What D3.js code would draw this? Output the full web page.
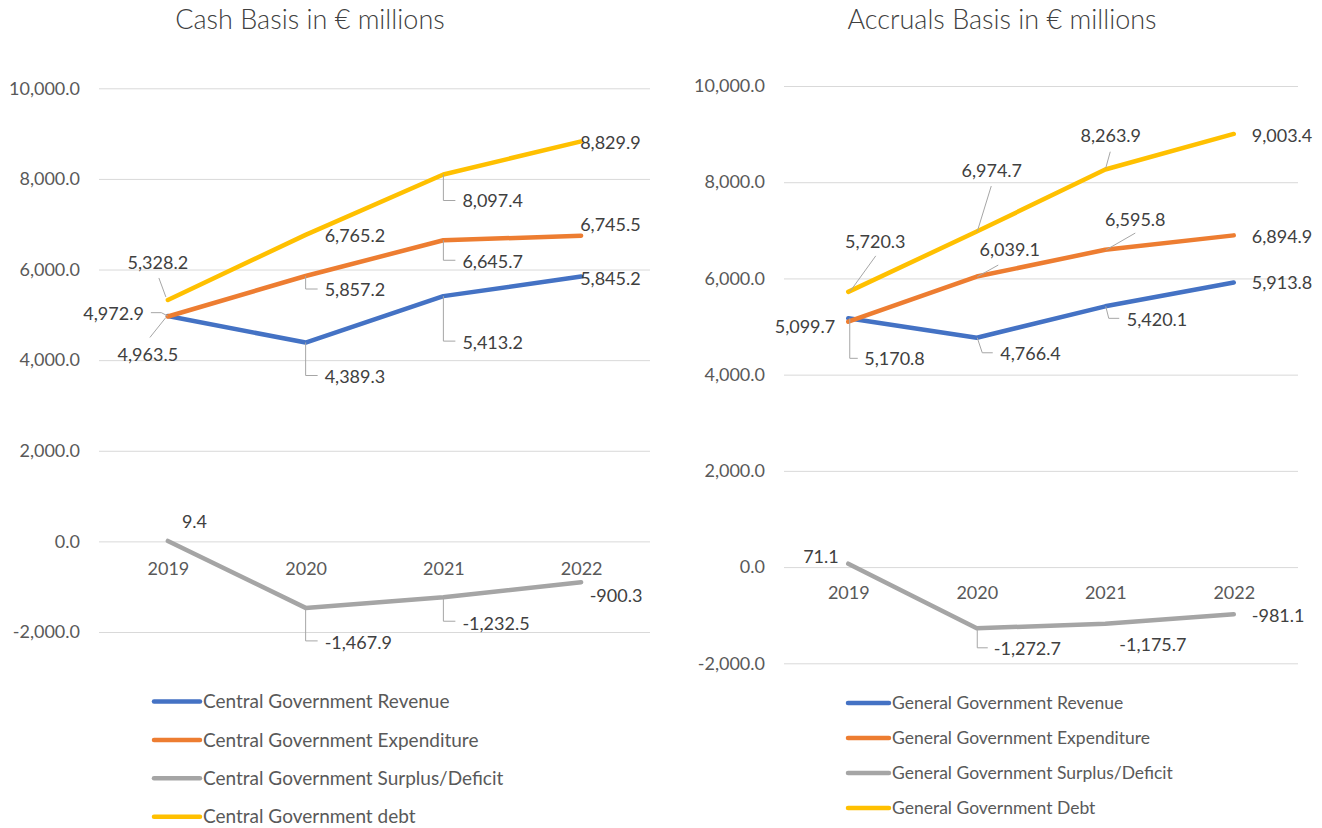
<!DOCTYPE html>
<html>
<head>
<meta charset="utf-8">
<script src="https://cdn.jsdelivr.net/npm/d3@7"></script>
<style>
  body { margin: 0; background: #fff; }
  svg text { font-family: Lato, "Noto Sans", sans-serif; }
</style>
</head>
<body>
<div id="chart-area"></div>
<script>
// data

var years = ["2019", "2020", "2021", "2022"];
var yTicks = [-2000, 0, 2000, 4000, 6000, 8000, 10000];

// cash basis (central government)
var cashRevenue = [4972.9, 4389.3, 5413.2, 5845.2];
var cashExpenditure = [4963.5, 5857.2, 6645.7, 6745.5];
var cashBalance = [9.4, -1467.9, -1232.5, -900.3];
var cashDebt = [5328.2, 6765.2, 8097.4, 8829.9];
var cashNames = [
  "Central Government Revenue",
  "Central Government Expenditure",
  "Central Government Surplus/Deficit",
  "Central Government debt"
];

// accruals basis (general government)
var accRevenue = [5170.8, 4766.4, 5420.1, 5913.8];
var accExpenditure = [5099.7, 6039.1, 6595.8, 6894.9];
var accBalance = [71.1, -1272.7, -1175.7, -981.1];
var accDebt = [5720.3, 6974.7, 8263.9, 9003.4];
var accNames = [
  "General Government Revenue",
  "General Government Expenditure",
  "General Government Surplus/Deficit",
  "General Government Debt"
];

var colors = ["#4472C4", "#ED7D31", "#A5A5A5", "#FFC000"];

// label placement: [dx, dy, anchor, leader points] relative to the data point
var cashLabels = [
  [ // revenue
    [-24, -2, "end", [[0, 0], [-6.5, -3.4], [-17, -3.4]]],
    [19, 34, "start", [[0, 0], [0, 33], [12, 33]]],
    [19, 46.5, "start", [[0, 0], [0, 45], [12, 45]]],
    [-1, 1.7, "start", null]
  ],
  [ // expenditure
    [-20, 38, "middle", [[-2, 1], [-18, 21]]],
    [19, 14, "start", [[0, 0], [0, 13], [12, 13]]],
    [19, 21.4, "start", [[0, 0], [0, 20], [12, 20]]],
    [-1, -11.5, "start", null]
  ],
  [ // surplus/deficit
    [14, -19.3, "start", null],
    [19, 34.8, "start", [[0, 0], [0, 33], [12, 33]]],
    [19, 26.1, "start", [[0, 0], [0, 24], [12, 24]]],
    [8.5, 13.5, "start", null]
  ],
  [ // debt
    [-10, -37.3, "middle", [[-2, -3], [-9, -22]]],
    [19, 1, "start", null],
    [19, 26.2, "start", [[0, 0], [0, 26], [12, 26]]],
    [-1, 1.4, "start", null]
  ]
];

var accLabels = [
  [ // revenue
    [16, 40.7, "start", [[1.5, 0], [1.5, 40], [9.5, 40]]],
    [23.5, 15.5, "start", [[0.5, 0], [5.5, 15], [16, 15]]],
    [21.5, 13, "start", [[0.5, 0], [3.5, 12], [14, 12]]],
    [18, 0, "start", null]
  ],
  [ // expenditure
    [-13, 5, "end", null],
    [33, -27.2, "middle", [[0.5, 0.2], [21.5, -11.5]]],
    [30, -30.4, "middle", [[0.5, 0.3], [30, -16.7]]],
    [18, 1.3, "start", null]
  ],
  [ // surplus/deficit
    [-9.5, -7, "end", null],
    [17, 20.7, "start", [[0.5, 0], [0.5, 19.5], [11, 19.5]]],
    [14, 20.7, "start", null],
    [18, 1.4, "start", null]
  ],
  [ // debt
    [27, -50.2, "middle", [[1.5, 0], [27.5, -36]]],
    [15, -60.5, "middle", [[0.5, 0], [14.5, -45.5]]],
    [5.5, -33.5, "middle", [[0.5, -1.5], [5, -17.8]]],
    [18, 2, "start", null]
  ]
];

// SVG drawing area
var width = 1322;
var height = 828;

var svg = d3
  .select("#chart-area")
  .append("svg")
  .attr("width", width)
  .attr("height", height);

// plain hyphen for negatives, like the original
var fmt = (v) => d3.format(",.1f")(v).replace("\u2212", "-");

function drawPanel(opts) {
  var g = svg.append("g");

  var x = d3.scalePoint().domain(years).range(opts.xRange).padding(0.5);
  var y = d3.scaleLinear().domain([-2000, 10000]).range(opts.yRange);

  // title
  g.append("text")
    .attr("x", opts.titleX)
    .attr("y", 29)
    .attr("text-anchor", "middle")
    .attr("font-size", 27)
    .attr("font-weight", 300)
    .attr("fill", "#404040")
    .text(opts.title);

  // y axis with gridlines
  var yAxis = d3
    .axisLeft(y)
    .tickValues(yTicks)
    .tickSize(-(opts.xRange[1] - opts.xRange[0]))
    .tickFormat(fmt)
    .tickPadding(19);

  var ya = g
    .append("g")
    .attr("transform", `translate(${opts.xRange[0]}, 0)`)
    .call(yAxis);
  ya.select(".domain").remove();
  ya.selectAll("line").attr("stroke", "#D9D9D9").attr("stroke-width", 1);
  ya.selectAll("text")
    .attr("font-size", 18)
    .attr("fill", "#595959")
    .attr("font-family", "Lato, sans-serif");

  // x axis labels sit just below the zero line
  var xAxis = d3.axisBottom(x).tickSize(0).tickPadding(opts.xPad);
  var xa = g
    .append("g")
    .attr("transform", `translate(0, ${y(0)})`)
    .call(xAxis);
  xa.select(".domain").remove();
  xa.selectAll("text")
    .attr("font-size", 18)
    .attr("fill", "#595959")
    .attr("font-family", "Lato, sans-serif");

  var line = d3
    .line()
    .x((d, i) => x(years[i]))
    .y((d) => y(d));

  // series lines
  opts.series.forEach(function (s, k) {
    g.append("path")
      .datum(s)
      .attr("fill", "none")
      .attr("stroke", colors[k])
      .attr("stroke-width", 4.5)
      .attr("stroke-linecap", "round")
      .attr("stroke-linejoin", "round")
      .attr("d", line);
  });

  // data labels with leader lines
  opts.series.forEach(function (s, k) {
    s.forEach(function (v, i) {
      var px = x(years[i]);
      var py = y(v);
      var lab = opts.labels[k][i];
      if (lab[3]) {
        g.append("polyline")
          .attr("fill", "none")
          .attr("stroke", "#A6A6A6")
          .attr("stroke-width", 1)
          .attr("points", lab[3].map((p) => [px + p[0], py + p[1]].join(",")).join(" "));
      }
      g.append("text")
        .attr("x", px + lab[0])
        .attr("y", py + lab[1])
        .attr("dy", "0.35em")
        .attr("text-anchor", lab[2])
        .attr("font-size", 18)
        .attr("fill", "#404040")
        .text(fmt(v));
    });
  });

  // legend
  var leg = g
    .selectAll(".legend")
    .data(opts.names)
    .join("g")
    .attr("class", "legend")
    .attr("transform", (d, i) => `translate(${opts.legendX}, ${opts.legendY + i * opts.legendStep})`);

  leg.append("line")
    .attr("x1", 0)
    .attr("x2", opts.legendLine)
    .attr("stroke", (d, i) => colors[i])
    .attr("stroke-width", 4.5)
    .attr("stroke-linecap", "round");

  leg.append("text")
    .attr("x", opts.legendLine + 3)
    .attr("dy", "0.35em")
    .attr("font-size", opts.legendFont)
    .attr("fill", "#595959")
    .text((d) => d);
}

drawPanel({
  title: "Cash Basis in € millions",
  titleX: 310,
  xRange: [99, 650],
  yRange: [632, 88.3],
  xPad: 21,
  series: [cashRevenue, cashExpenditure, cashBalance, cashDebt],
  labels: cashLabels,
  names: cashNames,
  legendX: 154,
  legendY: 701.5,
  legendStep: 38.4,
  legendLine: 46,
  legendFont: 19
});

drawPanel({
  title: "Accruals Basis in € millions",
  titleX: 1002,
  xRange: [784, 1298],
  yRange: [663.3, 86],
  xPad: 19,
  series: [accRevenue, accExpenditure, accBalance, accDebt],
  labels: accLabels,
  names: accNames,
  legendX: 848,
  legendY: 703,
  legendStep: 35,
  legendLine: 41,
  legendFont: 17.5
});
</script>
</body>
</html>
